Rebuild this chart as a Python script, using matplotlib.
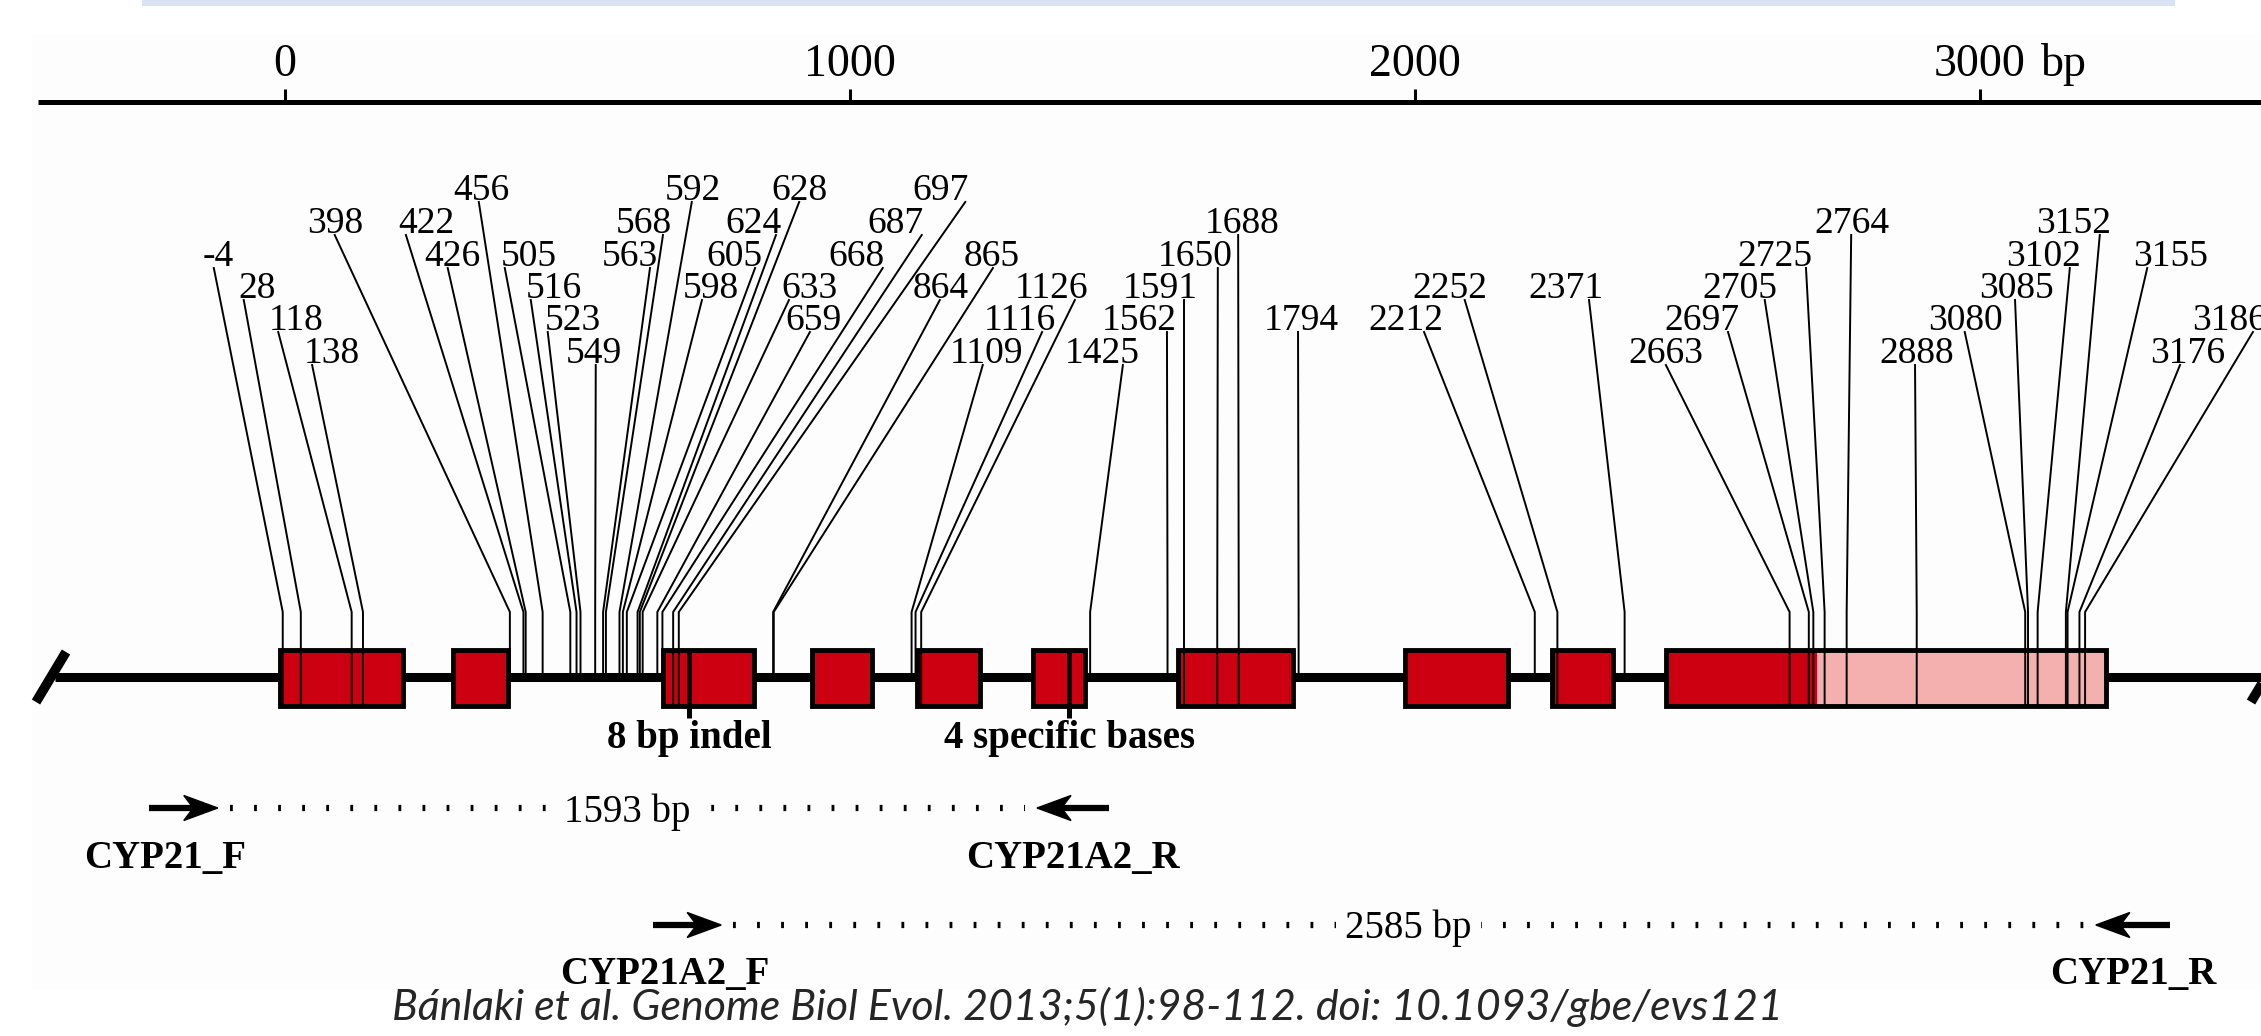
import matplotlib
matplotlib.use('Agg')
import matplotlib.pyplot as plt
from matplotlib.patches import Rectangle, Polygon

# ---------------- data ----------------
axis_ticks = [0, 1000, 2000, 3000]
axis_tick_labels = ['0', '1000', '2000', '3000']
axis_unit = 'bp'

exon_starts = [-9, 297, 669, 933, 1119, 1324, 1580, 1982, 2242, 2444]
exon_ends = [209, 395, 830, 1039, 1230, 1416, 1784, 2165, 2350, 3223]
utr_start = 2712  # start of light (UTR) part of last exon

snp_pos = [-4, 28, 118, 138, 398, 422, 426, 456, 505, 516, 523, 549, 563, 568,
           592, 598, 605, 624, 628, 633, 659, 668, 687, 697, 864, 865, 1109,
           1116, 1126, 1425, 1562, 1591, 1650, 1688, 1794, 2212, 2252, 2371,
           2663, 2697, 2705, 2725, 2764, 2888, 3080, 3085, 3102, 3152, 3155,
           3176, 3186]

feature_pos = [715, 1388]
feature_labels = ['8 bp indel', '4 specific bases']

primer_names = ['CYP21_F', 'CYP21A2_R', 'CYP21A2_F', 'CYP21_R']
primer_tail = [-241, 1458, 651, 3336]
primer_tip = [-119, 1331, 772, 3205]
amplicon_labels = ['1593 bp', '2585 bp']

citation = 'Bánlaki et al. Genome Biol Evol. 2013;5(1):98-112. doi: 10.1093/gbe/evs121'

# ---------------- layout (label placement) ----------------
snp_row = [2, 3, 4, 5, 1, 1, 2, 0, 2, 3, 4, 5, 2, 1, 0, 3, 2, 1, 0, 3, 4, 2, 1, 0,
           3, 2, 5, 4, 3, 5, 4, 3, 2, 1, 4, 4, 3, 3, 5, 4, 3, 2, 1, 5, 4, 3, 2, 1,
           2, 5, 4]
snp_text_x = [-119, -50, 19, 83, 88, 251, 297, 347, 432, 476, 510, 547, 611, 635,
              722, 754, 796, 830, 910, 929, 936, 1012, 1080, 1161, 1161, 1250, 1242,
              1301, 1356, 1446, 1512, 1550, 1611, 1694, 1798, 1984, 2062, 2267,
              2444, 2508, 2575, 2637, 2773, 2888, 2975, 3065, 3112, 3165, 3338,
              3368, 3442]
snp_line_top = [-126, -73, -12, 48, 88, 214, 288, 343, 389, 435, 465, 550, 646, 669,
                720, 738, 832, 869, 910, 892, 929, 1058, 1127, 1204, 1159, 1253, 1235,
                1340, 1398, 1483, 1561, 1591, 1651, 1687, 1793, 2016, 2088, 2308,
                2444, 2554, 2619, 2692, 2772, 2885, 2973, 3062, 3159, 3212, 3296,
                3354, 3483]
primer_label_x = [-212, 1394, 673, 3272]

W, H, DPI = 2261, 1036, 100
X0, PPB = 285.0, 0.565   # pixel of 0 bp, pixels per bp


def px2bp(px):
    return (px - X0) / PPB


row_base = [200, 233, 266, 298, 330, 363]
BEND_Y = 612
GENE_Y = 677
BOX_TOP, BOX_BOT = 650, 706
SERIF = 'Liberation Serif'
RED = '#cc0010'
PINK = '#f4b0ae'
PANEL = '#fdfdfd'

fig = plt.figure(figsize=(W / DPI, H / DPI), dpi=DPI)
fig.patch.set_facecolor('white')

ax = fig.add_axes([0, 0, 1, 1])
ax.patch.set_visible(False)
ax.set_xlim(px2bp(0), px2bp(W))
ax.set_ylim(H, 0)
ax.axis('off')

# slide decorations (axes fraction coords)
ax.add_patch(Rectangle((142 / W, 1 - 6 / H), (2175 - 142) / W, 6 / H,
                       transform=ax.transAxes, facecolor='#dae3f3',
                       edgecolor='none', zorder=0))
ax.add_patch(Rectangle((32 / W, 1 - 990 / H), 1 - 32 / W, (990 - 35) / H,
                       transform=ax.transAxes, facecolor=PANEL,
                       edgecolor='none', zorder=0))

# ---- scale axis ----
ax.plot([px2bp(38), px2bp(W + 5)], [102, 102], color='black', lw=3.6,
        solid_capstyle='butt', zorder=3)
for t, lab in zip(axis_ticks, axis_tick_labels):
    ax.plot([t, t], [102, 89], color='black', lw=2.2, solid_capstyle='butt')
    ax.text(t, 76, lab, ha='center', va='baseline', fontsize=33, family=SERIF)
ax.annotate(axis_unit, xy=(axis_ticks[-1], 76), xytext=(44, 0),
            textcoords='offset points', ha='left', va='baseline',
            fontsize=33, family=SERIF)

# ---- gene line ----
gene_l, gene_r = px2bp(55), px2bp(W + 10)
ax.plot([gene_l, gene_r], [GENE_Y, GENE_Y], color='black', lw=6.5,
        solid_capstyle='butt', zorder=2)
for xb, xt in [(px2bp(36), px2bp(66)), (px2bp(2251), px2bp(2281))]:
    ax.plot([xb, xt], [702, 652], color='black', lw=7, solid_capstyle='butt', zorder=2)

# ---- exons ----
for i, (s, e) in enumerate(zip(exon_starts, exon_ends)):
    if i == len(exon_starts) - 1:
        ax.add_patch(Rectangle((s, BOX_TOP), utr_start - s, BOX_BOT - BOX_TOP,
                               facecolor=RED, edgecolor='none', zorder=3))
        ax.add_patch(Rectangle((utr_start, BOX_TOP), e - utr_start, BOX_BOT - BOX_TOP,
                               facecolor=PINK, edgecolor='none', zorder=3))
        ax.add_patch(Rectangle((s, BOX_TOP), e - s, BOX_BOT - BOX_TOP,
                               fill=False, edgecolor='black', lw=3.5, zorder=5))
    else:
        ax.add_patch(Rectangle((s, BOX_TOP), e - s, BOX_BOT - BOX_TOP,
                               facecolor=RED, edgecolor='black', lw=3.5, zorder=3))

# ---- SNP labels and leader lines ----
for pos, row, tx, lt in zip(snp_pos, snp_row, snp_text_x, snp_line_top):
    yb = row_base[row]
    ax.text(tx, yb, str(pos), ha='center', va='baseline', fontsize=27,
            family=SERIF, zorder=6)
    inside = any(s <= pos <= e for s, e in zip(exon_starts, exon_ends))
    y_end = BOX_BOT - 2 if inside else GENE_Y
    ax.plot([lt, pos, pos], [yb + 2, BEND_Y, y_end], color='black', lw=1.4,
            zorder=4, solid_joinstyle='miter')

# ---- special features ----
for fx, fl in zip(feature_pos, feature_labels):
    ax.plot([fx, fx], [BOX_TOP, 718], color='black', lw=3.6,
            solid_capstyle='butt', zorder=6)
    ax.text(fx, 748, fl, ha='center', va='baseline', fontsize=28,
            fontweight='bold', family=SERIF)

# ---- primers ----
row_y = [808, 925]
lab_y = [868, 984]
amp_y = [822, 938]
head_len = 34 / PPB
head_half = 12.5


def draw_arrow(tail, tip, y):
    d = 1 if tip > tail else -1
    base = tip - d * head_len
    ax.plot([tail, base + d * 0.3 * head_len], [y, y], color='black', lw=4.5,
            solid_capstyle='butt', zorder=4)
    ax.add_patch(Polygon([(tip, y), (base, y - head_half),
                          (tip - d * 0.72 * head_len, y), (base, y + head_half)],
                         closed=True, facecolor='black', edgecolor='black',
                         lw=1, zorder=5))


for r in range(2):
    f, rv = 2 * r, 2 * r + 1
    y = row_y[r]
    draw_arrow(primer_tail[f], primer_tip[f], y)
    draw_arrow(primer_tail[rv], primer_tip[rv], y)
    gap = 12 / PPB
    ax.plot([primer_tip[f] + gap, primer_tip[rv] - gap], [y, y], color='black',
            lw=4.5, linestyle=(0, (0.45, 3.4)), dash_capstyle='butt', zorder=3)
    mid = (primer_tip[f] + primer_tip[rv]) / 2
    ax.text(mid, amp_y[r], amplicon_labels[r], ha='center', va='baseline',
            fontsize=28, family=SERIF, zorder=6,
            bbox=dict(boxstyle='square,pad=0.25', facecolor=PANEL,
                      edgecolor='none'))
    for k in (f, rv):
        ax.text(primer_label_x[k], lab_y[r], primer_names[k],
                ha='center', va='baseline', fontsize=28, fontweight='bold',
                family=SERIF, zorder=6)

# ---- citation ----
cit = ax.text(px2bp(392), 1020, citation, ha='left', va='baseline',
              fontsize=28, style='italic', family='Lato', color='#262626', zorder=7)
fig.canvas.draw()
bb = cit.get_window_extent(renderer=fig.canvas.get_renderer())
cit.set_fontsize(28 * (1781 - 392) / bb.width)

fig.savefig('out.png', dpi=DPI, facecolor='white')
